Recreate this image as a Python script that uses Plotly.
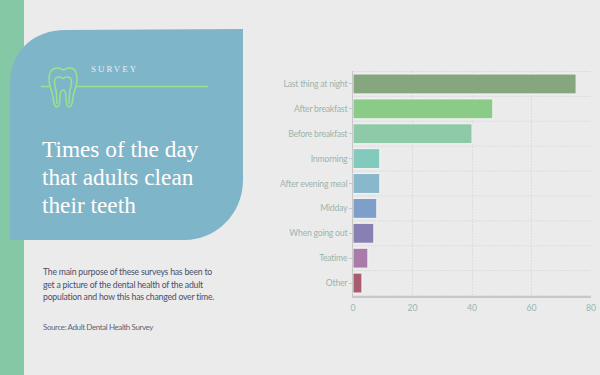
import plotly.graph_objects as go

categories = ["Last thing at night", "After breakfast", "Before breakfast", "Inmorning",
              "After evening meal", "Midday", "When going out", "Teatime", "Other"]
values = [75, 47, 40, 9, 9, 8, 7, 5, 3]
bar_colors = ["#86a67f", "#8bcb88", "#8ecaa8", "#82cabc", "#88b8cb", "#7f9fcb", "#8880b4", "#a87bab", "#a95b6f"]
x_ticks = [0, 20, 40, 60, 80]

W, H = 600, 375
def X(v): return v / W
def Y(v): return 1 - v / H
def path(cmds):
    out = []
    for c in cmds:
        op, pts = c[0], c[1:]
        out.append(op + " ".join(f"{X(pts[i]):.5f},{Y(pts[i+1]):.5f}" for i in range(0, len(pts), 2)))
    return " ".join(out)

panel = path([("M", 10, 84), ("C", 10, 50, 35, 30, 65, 30), ("L", 243, 29), ("L", 243, 180),
              ("C", 243, 215, 215, 240, 185, 240), ("L", 10, 240)]) + " Z"
outer = path([("M", 49, 80), ("C", 49, 72, 52, 68, 57, 68), ("C", 60, 68, 61, 69, 63, 70),
              ("C", 65, 69, 67, 68, 70, 68), ("C", 75, 68, 77, 72, 77, 80),
              ("C", 77, 87, 74, 90, 73, 97), ("C", 72.5, 102, 72, 107, 69, 107),
              ("C", 66, 107, 66.5, 102, 66, 98), ("C", 66, 93, 65.5, 90, 63, 90),
              ("C", 60.5, 90, 60, 93, 60, 98), ("C", 59.5, 102, 60, 107, 57, 107),
              ("C", 54, 107, 53.5, 102, 53, 97), ("C", 52, 90, 49, 87, 49, 80)]) + " Z"
inner = path([("M", 54.5, 82), ("C", 54.5, 78, 57, 77, 59, 77), ("C", 61, 77, 62, 78, 63, 78.5),
              ("C", 64, 78, 65, 77, 67, 77), ("C", 69, 77, 71.5, 78, 71.5, 82),
              ("C", 71.5, 87, 69.5, 89, 69.5, 95), ("L", 69, 104),
              ("M", 54.5, 82), ("C", 54.5, 87, 56.5, 89, 56.5, 95), ("L", 57, 104)])

GREEN = "#9ae28e"
shapes = [
    dict(type="rect", xref="paper", yref="paper", x0=0, x1=X(24), y0=0, y1=1, fillcolor="#85c8a5", line_width=0, layer="below"),
    dict(type="path", xref="paper", yref="paper", path=panel, fillcolor="#7fb5c9", line_width=0, layer="below"),
    dict(type="path", xref="paper", yref="paper", path=outer, line=dict(color=GREEN, width=1.5), layer="above"),
    dict(type="path", xref="paper", yref="paper", path=inner, line=dict(color=GREEN, width=1.5), layer="above"),
    dict(type="line", xref="paper", yref="paper", x0=X(41), x1=X(49.5), y0=Y(86.5), y1=Y(86.5), line=dict(color=GREEN, width=1.5)),
    dict(type="line", xref="paper", yref="paper", x0=X(76), x1=X(208), y0=Y(86.5), y1=Y(86.5), line=dict(color=GREEN, width=1.5)),
]
for i in range(len(categories) + 1):
    shapes.append(dict(type="line", xref="x", yref="y", x0=0, x1=80, y0=i - 0.5, y1=i - 0.5,
                       line=dict(color="#dcdcdc", width=1, dash="2px,1px"), layer="below"))

def note(text, x, y, size, color, family, yanchor="middle", **kw):
    return dict(text=text, xref="paper", yref="paper", x=X(x), y=Y(y), showarrow=False, xanchor="left",
                yanchor=yanchor, align="left", xshift=-1, font=dict(size=size, color=color, family=family), **kw)

annotations = [
    note("SURVEY", 90, 69, 9, "#e4eef2", "Liberation Serif"),
    note("Times of the day", 40.5, 149, 23.3, "#ffffff", "Liberation Serif"),
    note("that adults clean", 40.5, 177, 23.3, "#ffffff", "Liberation Serif"),
    note("their teeth", 40.5, 204.5, 23.3, "#ffffff", "Liberation Serif"),
    note("The main purpose of these surveys has been to", 41.5, 271.5, 8.7, "#4a4f6a", "Lato"),
    note("get a picture of the dental health of the adult", 41.5, 284, 8.7, "#4a4f6a", "Lato"),
    note("population and how this has changed over time.", 41.5, 296, 8.7, "#4a4f6a", "Lato"),
    note("Source: Adult Dental Health Survey", 41.5, 327, 8, "#5f6478", "Lato"),
]

fig = go.Figure(go.Bar(
    y=categories, x=values, orientation="h",
    marker=dict(color=bar_colors, line=dict(color="#f4f4f4", width=1)),
))
fig.update_layout(
    width=W, height=H, margin=dict(l=0, r=0, t=0, b=0, pad=0, autoexpand=False), autosize=False,
    paper_bgcolor="#ebebeb", plot_bgcolor="#ebebeb", showlegend=False, bargap=0.2,
    shapes=shapes, annotations=annotations,
    font=dict(family="Lato", size=8.7, color="#9cb5ae"),
    xaxis=dict(domain=[353 / W, 591 / W], range=[0, 80], tickvals=x_ticks, showgrid=True, automargin=False,
               gridcolor="#dcdcdc", griddash="2px,1px", gridwidth=1, zeroline=False, showline=True,
               linecolor="#c8c8c8", linewidth=2, ticks="", anchor="y", layer="below traces", ticklabelstandoff=3),
    yaxis=dict(domain=[1 - 296 / H, 1 - 71 / H], autorange="reversed", type="category", categoryorder="array",
               categoryarray=categories, showgrid=False, zeroline=False, showline=True, automargin=False,
               linecolor="#c8c8c8", linewidth=1, ticks="outside", ticklen=3, tickcolor="#c8c8c8",
               anchor="x", ticklabelstandoff=0),
)
fig.write_html("out.html", default_width="600px", default_height="375px",
               config={"displayModeBar": False}, post_script="""
document.documentElement.style.overflow='hidden';
document.documentElement.style.margin='0';
document.body.style.margin='0';
document.body.style.padding='0';
var gd=document.getElementsByClassName('plotly-graph-div')[0];
gd.style.margin='0';
gd.querySelectorAll('.annotation-text').forEach(function(t){
  var s=t.textContent;
  if(s==='SURVEY'){t.style.letterSpacing='2px';}
  else if(s.indexOf('Source')===0){t.style.letterSpacing='-0.4px';}
  else if(t.style.fontSize==='8.7px'){t.style.letterSpacing='-0.22px';}
});
gd.querySelectorAll('.ytick text').forEach(function(t){t.style.letterSpacing='-0.25px';});
""")
